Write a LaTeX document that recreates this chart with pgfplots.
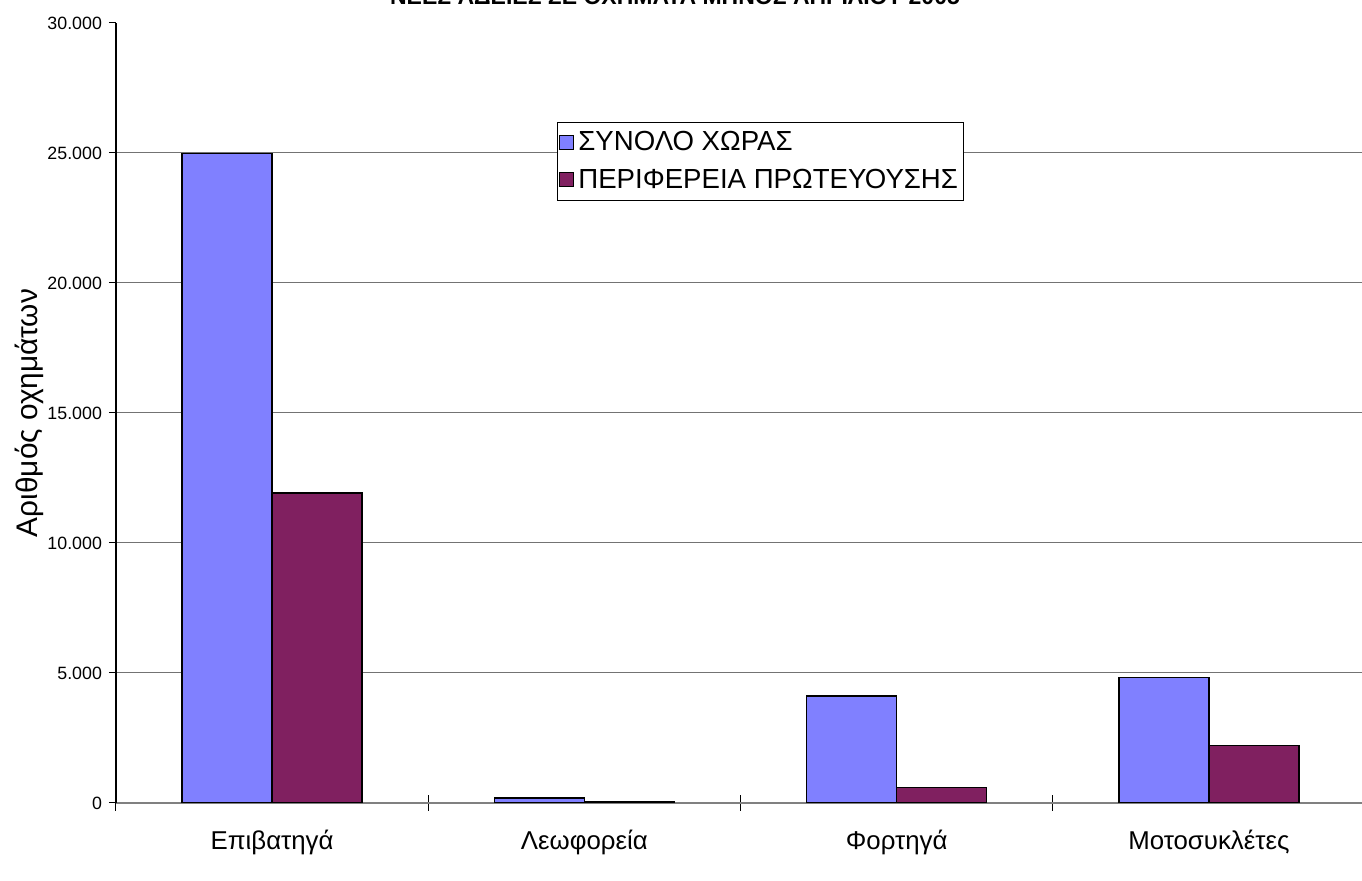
\documentclass[border=0pt]{standalone}
\usepackage{fontspec}
\setmainfont{Liberation Sans}
\usepackage{pgfplots}
\pgfplotsset{compat=1.18}
\definecolor{seriesblue}{RGB}{128,128,255}
\definecolor{seriesplum}{RGB}{128,32,96}

\begin{document}
\begin{tikzpicture}
\begin{axis}[
    name=ax, at={(0,0)}, anchor=south west,
    scale only axis, width=624.5pt, height=390pt,
    ybar=0pt, bar width=45pt,
    xmin=-0.5, xmax=3.5, ymin=0, ymax=30000,
    axis lines*=left,
    x axis line style={-, draw=black!50, line width=0.6pt},
    y axis line style={-, draw=black, line width=0.6pt},
    xtick={0,1,2,3},
    xticklabels={Επιβατηγά, Λεωφορεία, Φορτηγά, Μοτοσυκλέτες},
    major x tick style={draw=none},
    minor xtick={-0.5,0.5,1.5,2.5,3.5},
    minor x tick style={draw=black, line width=0.5pt},
    xtick align=center, minor tick length=8pt,
    ytick={0,5000,...,25000},
    extra y ticks={30000},
    extra y tick style={grid=none},
    scaled y ticks=false,
    ytick align=outside, major tick length=3.5pt,
    y tick style={draw=black, line width=0.5pt},
    ymajorgrids, grid style={draw=black!55, line width=0.5pt},
    /pgf/number format/.cd, 1000 sep={.}, assume math mode=true,
    /pgfplots/.cd,
    yticklabel style={font=\fontsize{8.9}{10.5}\selectfont},
    xticklabel style={font=\fontsize{12.9}{15}\selectfont, yshift=-8.5pt},
    ylabel={Αριθμός οχημάτων},
    every axis y label/.style={at={(axis description cs:-0.069,0.5)}, rotate=90,
        anchor=center, font=\fontsize{14.9}{17}\selectfont},
    legend style={at={(rel axis cs:0.353,0.873)}, anchor=north west,
        draw=black, line width=0.5pt, fill=white,
        font=\fontsize{13.8}{16}\selectfont,
        inner xsep=1pt, inner ysep=2.5pt, row sep=3.5pt},
    legend cell align=left,
    legend image code/.code={\draw[#1, draw=black, line width=0.5pt] (0pt,-3.5pt) rectangle (7pt,3.5pt);},
]
\addplot[fill=seriesblue, draw=black, line width=0.75pt]
    coordinates {(0,24980) (1,200) (2,4110) (3,4820)};
\addplot[fill=seriesplum, draw=black, line width=0.75pt]
    coordinates {(0,11920) (1,40) (2,600) (3,2210)};
\legend{ΣΥΝΟΛΟ ΧΩΡΑΣ, ΠΕΡΙΦΕΡΕΙΑ ΠΡΩΤΕΥΟΥΣΗΣ}
\end{axis}
\node[font=\bfseries\fontsize{11.5}{13}\selectfont, anchor=base] at (279.5pt,399pt)
    {ΝΕΕΣ ΑΔΕΙΕΣ ΣΕ ΟΧΗΜΑΤΑ ΜΗΝΟΣ ΑΠΡΙΛΙΟΥ 2005};
\pgfresetboundingbox
\path[use as bounding box] (-58pt,-39pt) rectangle (623pt,401.5pt);
\end{tikzpicture}
\end{document}
